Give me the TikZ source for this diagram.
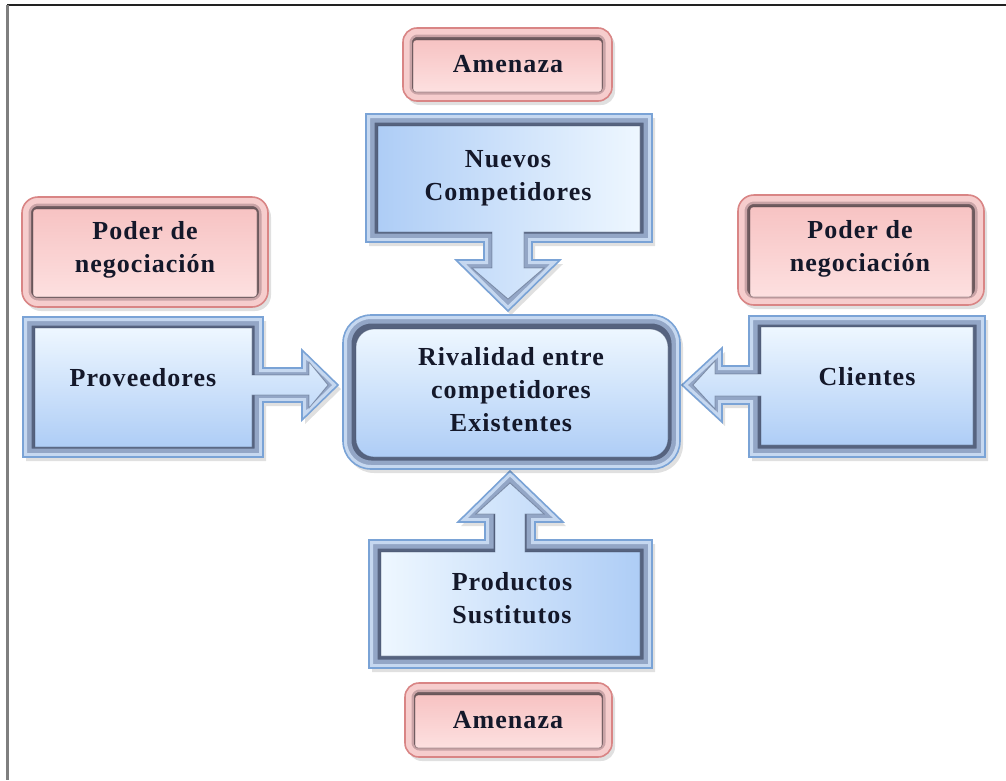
\documentclass[tikz,border=0pt]{standalone}
\usepackage{fontspec}
\newfontfamily\labelserif{Liberation Serif}[LetterSpace=4]
\newcommand\labelfont{\fontsize{26}{33}\selectfont\labelserif\bfseries}

\definecolor{bluedark}{HTML}{56637F}
\definecolor{bluemid}{HTML}{93A6C6}
\definecolor{bluelight}{HTML}{C6D8F0}
\definecolor{blueedge}{HTML}{7AA3D6}
\definecolor{blueshadow}{HTML}{3A4660}
\definecolor{pinkdark}{HTML}{6E5A5E}
\definecolor{pinkmid}{HTML}{C9A3A6}
\definecolor{pinklight}{HTML}{F6CDCD}
\definecolor{pinkedge}{HTML}{D98585}
\definecolor{pinkshadow}{HTML}{4A3C40}
\definecolor{bluepale}{HTML}{EEF7FF}
\definecolor{bluedeep}{HTML}{AECDF6}
\definecolor{pinktop}{HTML}{F7C3C3}
\definecolor{pinkbottom}{HTML}{FDE0E0}
\definecolor{textcol}{HTML}{14182A}
\definecolor{framedark}{HTML}{222222}
\definecolor{framegray}{HTML}{7F7F7F}

% #1 outer outline, #2 inner face, #3 colour scheme, #4 face shading,
% #5 width of the middle rim, #6 width of the light rim
\newcommand\bevelshape[6]{%
  \fill[black,opacity=.12,xshift=3pt,yshift=-4pt] #1;
  \begin{scope}
    \clip #1;
    \fill[#3dark] #1;
    \draw[line width=#5, #3mid] #1;
    \draw[line width=#6, #3light] #1;
  \end{scope}
  \draw[line width=1.6pt, #3edge] #1;
  \shade[#4] #2;
  \draw[line width=0.8pt, #3shadow, opacity=.45] #2;
}

\tikzset{lbl/.style={font=\labelfont, text=textcol, align=center, inner sep=0pt}}

\begin{document}
\begin{tikzpicture}[x=1pt,y=-1pt]
\useasboundingbox (0,0) rectangle (1006,780);
\fill[white] (0,0) rectangle (1006,780);

% page frame
\draw[line width=2pt, framedark] (7,5) -- (1006,5);
\draw[line width=2.5pt, framegray] (7.5,5) -- (7.5,780);

% threat of new entrants (top)
\bevelshape{[rounded corners=14pt] (403,28) rectangle (612,101)}
           {[rounded corners=3pt] (413,40) rectangle (602,92)}
           {pink}{top color=pinktop, bottom color=pinkbottom}{18pt}{13pt}
\bevelshape{(366,114) -- (652,114) -- (652,242) -- (532,242) -- (532,260) -- (560,260) -- (508,311) -- (456,260) -- (484,260) -- (484,242) -- (366,242) -- cycle}
           {(378,126) -- (640,126) -- (640,232) -- (524,232) -- (524,268) -- (544,268) -- (508,299) -- (472,268) -- (492,268) -- (492,232) -- (378,232) -- cycle}
           {blue}{left color=bluedeep, right color=bluepale}{17pt}{8pt}

% suppliers (left)
\bevelshape{[rounded corners=16pt] (22,197) rectangle (268,307)}
           {[rounded corners=3pt] (33,209) rectangle (257,297)}
           {pink}{top color=pinktop, bottom color=pinkbottom}{18pt}{13pt}
\bevelshape{(23,317) -- (263,317) -- (263,368) -- (302,368) -- (302,350) -- (338,385) -- (302,420) -- (302,402) -- (263,402) -- (263,457) -- (23,457) -- cycle}
           {(35,328) -- (252,328) -- (252,375) -- (309,375) -- (309,362) -- (328,385) -- (309,408) -- (309,395) -- (252,395) -- (252,447) -- (35,447) -- cycle}
           {blue}{top color=bluepale, bottom color=bluedeep}{17pt}{8pt}

% buyers (right)
\bevelshape{[rounded corners=16pt] (738,195) rectangle (984,305)}
           {[rounded corners=3pt] (750,207) rectangle (972,297)}
           {pink}{top color=pinktop, bottom color=pinkbottom}{18pt}{13pt}
\bevelshape{(749,316) -- (985,316) -- (985,457) -- (749,457) -- (749,404) -- (722,404) -- (722,422) -- (682,385) -- (722,348) -- (722,366) -- (749,366) -- cycle}
           {(761,327) -- (973,327) -- (973,445) -- (761,445) -- (761,396) -- (715,396) -- (715,409) -- (693,385) -- (715,361) -- (715,374) -- (761,374) -- cycle}
           {blue}{top color=bluepale, bottom color=bluedeep}{17pt}{8pt}

% substitutes (bottom)
\bevelshape{(369,540) -- (485,540) -- (485,522) -- (458,522) -- (510,471) -- (563,522) -- (535,522) -- (535,540) -- (652,540) -- (652,668) -- (369,668) -- cycle}
           {(381,552) -- (495,552) -- (495,514) -- (476,514) -- (510,483) -- (544,514) -- (525,514) -- (525,552) -- (640,552) -- (640,656) -- (381,656) -- cycle}
           {blue}{left color=bluepale, right color=bluedeep}{17pt}{8pt}
\bevelshape{[rounded corners=14pt] (405,683) rectangle (612,757)}
           {[rounded corners=3pt] (415,695) rectangle (602,748)}
           {pink}{top color=pinktop, bottom color=pinkbottom}{18pt}{13pt}

% central rivalry box
\bevelshape{[rounded corners=28pt] (343,315) rectangle (680,469)}
           {[rounded corners=18pt] (356,329) rectangle (668,457)}
           {blue}{top color=bluepale, bottom color=bluedeep}{17pt}{8pt}

% labels
\node[lbl] (amenazaTop) at (508,64) {Amenaza};
\node[lbl] (nuevos) at (508,178) {Nuevos\\Competidores};
\node[lbl] (poderIzq) at (145,250) {Poder de\\negociación};
\node[lbl] (proveedores) at (143,378) {Proveedores};
\node[lbl] (rivalidad) at (511,390) {Rivalidad entre\\competidores\\Existentes};
\node[lbl] (poderDer) at (860,249) {Poder de\\negociación};
\node[lbl] (clientes) at (867,377) {Clientes};
\node[lbl] (productos) at (512,598) {Productos\\Sustitutos};
\node[lbl] (amenazaBot) at (508,720) {Amenaza};
\end{tikzpicture}
\end{document}
